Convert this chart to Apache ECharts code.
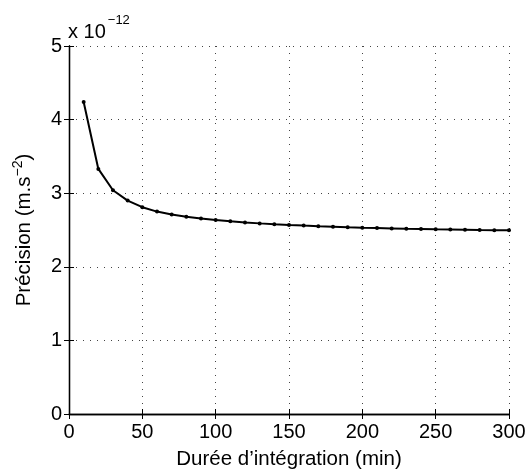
<!DOCTYPE html>
<html>
<head>
<meta charset="utf-8">
<script src="https://cdn.jsdelivr.net/npm/echarts@6/dist/echarts.min.js"></script>
<style>
html,body{margin:0;padding:0;background:#fff;}
#main{width:527px;height:471px;}
</style>
</head>
<body>
<div id="main"></div>
<script>
// Integration duration (min)
const durations = [10,20,30,40,50,60,70,80,90,100,110,120,130,140,150,160,170,180,190,200,210,220,230,240,250,260,270,280,290,300];
// Precision, in units of 1e-12 m.s^-2
const precision = [4.24,3.33,3.04,2.90,2.81,2.75,2.71,2.68,2.655,2.635,2.618,2.603,2.590,2.579,2.569,2.560,2.552,2.545,2.538,2.532,2.527,2.522,2.517,2.513,2.509,2.506,2.503,2.500,2.498,2.496];
const xTicks = [0,50,100,150,200,250,300];
const yTicks = [0,1,2,3,4,5];

const FONT = 'Liberation Sans, Arial, Helvetica, sans-serif';
const chart = echarts.init(document.getElementById('main'), null, {renderer:'canvas'});

const grid = {left:69, right:18, top:46, bottom:57, containLabel:false, outerBoundsMode:'none'};
const gridLine = {show:true, lineStyle:{color:'#444', type:[1,6], width:1}};
const axisLine = {show:true, lineStyle:{color:'#000', width:1.3}};
const tickIn = {show:true, inside:true, length:5, lineStyle:{color:'#000', width:1}};

chart.setOption({
  animation:false,
  backgroundColor:'#fff',
  grid:grid,
  xAxis:[{
    type:'value', min:xTicks[0], max:xTicks[xTicks.length-1], interval:50,
    axisLine:axisLine, axisTick:tickIn, splitLine:gridLine,
    axisLabel:{color:'#000', fontSize:20, fontFamily:FONT, margin:8},
    name:'Durée d\u2019intégration (min)', nameLocation:'middle', nameGap:35,
    nameTextStyle:{color:'#000', fontSize:20.5, fontFamily:FONT}
  },{
    type:'value', position:'top', min:0, max:300, interval:50,
    axisLine:axisLine, axisTick:tickIn, axisLabel:{show:false}, splitLine:{show:false}
  }],
  yAxis:[{
    type:'value', min:yTicks[0], max:yTicks[yTicks.length-1], interval:1,
    axisLine:axisLine, axisTick:tickIn, splitLine:gridLine,
    axisLabel:{color:'#000', fontSize:20, fontFamily:FONT, margin:7},
    name:'{n|Précision (m.s}{s|\u22122}{n|)}', nameLocation:'middle', nameGap:32,
    nameTextStyle:{color:'#000', fontSize:20.5, fontFamily:FONT,
      rich:{n:{fontSize:20.5, fontFamily:FONT, color:'#000'}, s:{fontSize:14, fontFamily:FONT, color:'#000', verticalAlign:'bottom', padding:[0,0,12,0]}}}
  },{
    type:'value', position:'right', min:0, max:5, interval:1,
    axisLine:axisLine, axisTick:tickIn, axisLabel:{show:false}, splitLine:{show:false}
  }],
  graphic:[{
    type:'text', left:68, top:14,
    style:{
      text:'{n|x 10}{s|\u221212}',
      rich:{n:{fontSize:20, fontFamily:FONT, fill:'#000', padding:[8,0,0,0]}, s:{fontSize:13, fontFamily:FONT, fill:'#000', verticalAlign:'top', padding:[0,0,0,2]}}
    }
  }],
  series:[{
    type:'line',
    data:durations.map((d,i)=>[d, precision[i]]),
    lineStyle:{color:'#000', width:2},
    itemStyle:{color:'#000'},
    symbol:'circle', symbolSize:4, showSymbol:true,
    silent:true
  }]
});
</script>
</body>
</html>
